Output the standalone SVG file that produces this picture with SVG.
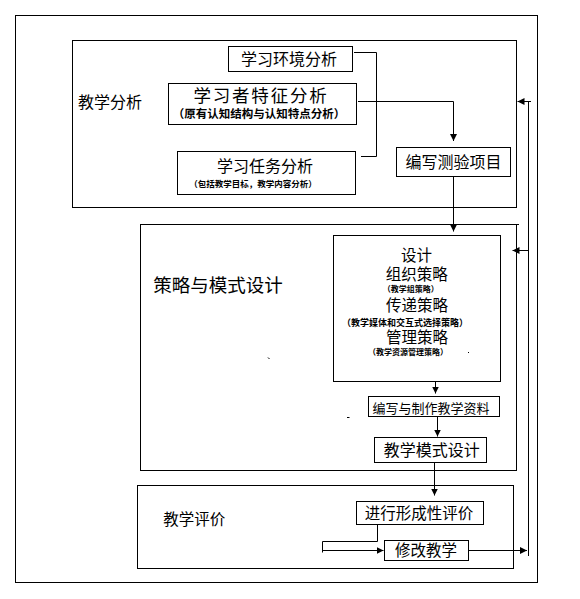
<svg xmlns="http://www.w3.org/2000/svg" width="580" height="599" viewBox="0 0 580 599">
<style>
  .box { fill: none; stroke: #000; stroke-width: 1; }
  .ln { fill: none; stroke: #000; stroke-width: 1; }
  text { font-family: "Noto Sans CJK SC", "Noto Sans", sans-serif; fill: #000; }
  .m { text-anchor: middle; }
  .s { font-weight: bold; }
</style>
<defs>
  <marker id="ah" markerUnits="userSpaceOnUse" markerWidth="7" markerHeight="7" refX="7" refY="3.5" orient="auto">
    <path d="M0,0 L7,3.5 L0,7 Z" fill="#000"/>
  </marker>
</defs>
<rect width="580" height="599" fill="#fff"/>

<g id="frame">
  <rect class="box" x="15.5" y="15.5" width="522" height="567"/>
</g>

<g id="analysis">
  <rect class="box" x="72.5" y="40.5" width="444" height="167"/>
  <text x="78" y="107.7" font-size="16">教学分析</text>
</g>
<g id="env">
  <rect class="box" x="228.5" y="46.5" width="124" height="25"/>
  <text class="m" x="289" y="65.4" font-size="16">学习环境分析</text>
</g>
<g id="learner">
  <rect class="box" x="168.5" y="83.5" width="188" height="41"/>
  <text class="m" x="261" y="102" font-size="17.5" letter-spacing="1.8">学习者特征分析</text>
  <text class="m s" x="259" y="118.4" font-size="11.5">（原有认知结构与认知特点分析）</text>
</g>
<g id="task">
  <rect class="box" x="177.5" y="151.5" width="178" height="43"/>
  <text class="m" x="265" y="172" font-size="16">学习任务分析</text>
  <text class="m s" x="253" y="186.5" font-size="8.5">（包括教学目标，教学内容分析）</text>
</g>
<g id="test">
  <rect class="box" x="396.5" y="147.5" width="114" height="29"/>
  <text class="m" x="453.5" y="167.8" font-size="16">编写测验项目</text>
</g>

<g id="strategy">
  <rect class="box" x="140.5" y="224.5" width="376" height="246"/>
  <path class="ln" d="M516.5,224.5 H519"/>
  <text class="m" x="218" y="292" font-size="18.5">策略与模式设计</text>
</g>
<g id="design">
  <rect class="box" x="333.5" y="235.5" width="167" height="146"/>
  <text class="m" x="416.5" y="260.6" font-size="15.5">设计</text>
  <text class="m" x="416.7" y="280.2" font-size="15.5">组织策略</text>
  <text class="m s" x="410.8" y="292.2" font-size="8">（教学组策略）</text>
  <text class="m" x="417" y="310.5" font-size="15.5">传递策略</text>
  <text class="m s" x="405" y="325.6" font-size="9">（教学媒体和交互式选择策略）</text>
  <text class="m" x="417" y="342.8" font-size="15.5">管理策略</text>
  <text class="m s" x="408" y="355" font-size="8">（教学资源管理策略）</text>
</g>
<g id="materials">
  <rect class="box" x="368.5" y="396.5" width="131" height="20"/>
  <text class="m" x="431" y="412.6" font-size="13">编写与制作教学资料</text>
</g>
<g id="mode">
  <rect class="box" x="374.5" y="437.5" width="112" height="25"/>
  <text class="m" x="431.7" y="456" font-size="16">教学模式设计</text>
</g>

<g id="evaluation">
  <rect class="box" x="137.5" y="485.5" width="376" height="83"/>
  <text x="163.3" y="525.2" font-size="15.5">教学评价</text>
</g>
<g id="formative">
  <rect class="box" x="356.5" y="501.5" width="127" height="23"/>
  <text class="m" x="419" y="518.6" font-size="15.5">进行形成性评价</text>
</g>
<g id="revise">
  <rect class="box" x="384.5" y="540.5" width="84" height="20"/>
  <text class="m" x="426" y="555.9" font-size="15.5">修改教学</text>
</g>

<g id="connectors">
  <path class="ln" d="M354,52.5 H376.5 V156.5 H361"/>
  <path class="ln" d="M358,101.5 H453.5 V141" marker-end="url(#ah)"/>
  <path class="ln" d="M453.5,177 V231.5" marker-end="url(#ah)"/>
  <path class="ln" d="M435.5,382 V393.5" marker-end="url(#ah)"/>
  <path class="ln" d="M437.5,417 V436.5" marker-end="url(#ah)"/>
  <path class="ln" d="M434.5,463 V495.5" marker-end="url(#ah)"/>
  <path class="ln" d="M377.5,525 V541.5 H322.5 V552.5"/>
  <path class="ln" d="M322.5,550.5 H383.5" marker-end="url(#ah)"/>
  <path class="ln" d="M469,550.5 H527" marker-end="url(#ah)"/>
  <path class="ln" d="M528.5,556 V101.5"/>
  <path class="ln" d="M531,101.5 H517.5" marker-end="url(#ah)"/>
  <path class="ln" d="M528.5,250.5 H512.5" marker-end="url(#ah)"/>
</g>

<g id="specks" stroke="#000" stroke-width="1">
  <path d="M268,357.5 L269.5,359"/>
  <path d="M347,417.5 H349.5"/>
  <path d="M468,352.5 H469"/>
</g>
</svg>
